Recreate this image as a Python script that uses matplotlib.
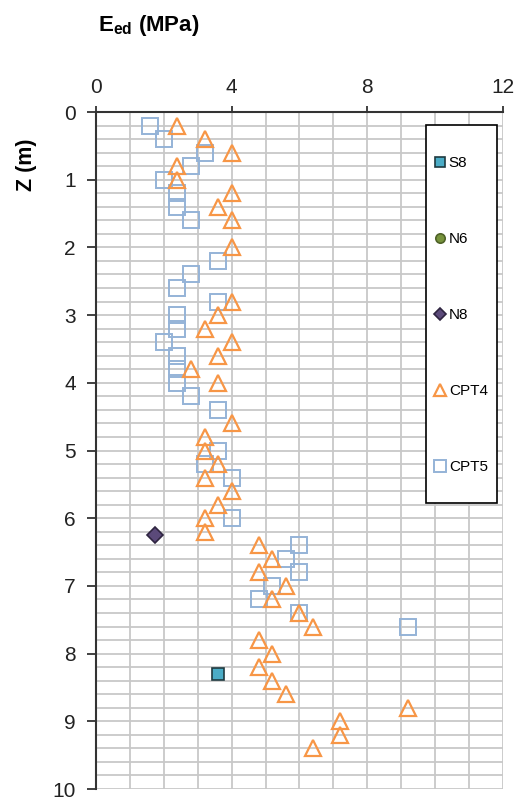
import numpy as np
import matplotlib
matplotlib.use('Agg')
import matplotlib.pyplot as plt
from matplotlib.ticker import MultipleLocator
from matplotlib.patches import Rectangle

plt.rcParams['font.family'] = ['Liberation Sans', 'DejaVu Sans']
plt.rcParams['mathtext.fontset'] = 'custom'
plt.rcParams['mathtext.rm'] = 'Liberation Sans'
plt.rcParams['mathtext.bf'] = 'Liberation Sans:bold'

# oedometer modulus vs depth
s8_E = [3.6]
s8_z = [8.3]
n6_E = []
n6_z = []
n8_E = [1.75]
n8_z = [6.25]

cpt4_z = [0.2, 0.4, 0.6, 0.8, 1.0, 1.2, 1.4, 1.6, 2.0, 2.8, 3.0, 3.2, 3.4, 3.6,
          3.8, 4.0, 4.6, 4.8, 5.0, 5.2, 5.4, 5.6, 5.8, 6.0, 6.2, 6.4, 6.6, 6.8,
          7.0, 7.2, 7.4, 7.6, 7.8, 8.0, 8.2, 8.4, 8.6, 8.8, 9.0, 9.2, 9.4]
cpt4_E = [2.4, 3.2, 4.0, 2.4, 2.4, 4.0, 3.6, 4.0, 4.0, 4.0, 3.6, 3.2, 4.0, 3.6,
          2.8, 3.6, 4.0, 3.2, 3.2, 3.6, 3.2, 4.0, 3.6, 3.2, 3.2, 4.8, 5.2, 4.8,
          5.6, 5.2, 6.0, 6.4, 4.8, 5.2, 4.8, 5.2, 5.6, 9.2, 7.2, 7.2, 6.4]

cpt5_z = [0.2, 0.4, 0.6, 0.8, 1.0, 1.2, 1.4, 1.6, 2.2, 2.4, 2.6, 2.8, 3.0, 3.2,
          3.4, 3.6, 3.8, 4.0, 4.2, 4.4, 5.0, 5.2, 5.4, 6.0, 6.4, 6.6, 6.8, 7.0,
          7.2, 7.4, 7.6]
cpt5_E = [1.6, 2.0, 3.2, 2.8, 2.0, 2.4, 2.4, 2.8, 3.6, 2.8, 2.4, 3.6, 2.4, 2.4,
          2.0, 2.4, 2.4, 2.4, 2.8, 3.6, 3.6, 3.2, 4.0, 4.0, 6.0, 5.6, 6.0, 5.2,
          4.8, 6.0, 9.2]

fig = plt.figure(figsize=(5.17, 7.99), dpi=100)
ax = fig.add_axes([0.1857, 0.0125, 0.7872, 0.8473])

ax.plot(s8_E, s8_z, 's', ms=9, mfc='#4BACC6', mec='#1F3A40', mew=1.2, label='S8', zorder=5)
ax.plot(n6_E, n6_z, 'o', ms=9, mfc='#77933C', mec='#4F6228', mew=1.2, label='N6', zorder=5)
ax.plot(n8_E, n8_z, 'D', ms=8, mfc='#5B4A7A', mec='#2E2440', mew=1.2, label='N8', zorder=5)
ax.plot(cpt4_E, cpt4_z, '^', ms=12, mfc='none', mec='#F79646', mew=1.6, label='CPT4', zorder=4)
ax.plot(cpt5_E, cpt5_z, 's', ms=11, mfc='none', mec='#95B3D7', mew=1.4, label='CPT5', zorder=3)

ax.set_xlim(0, 12)
ax.set_ylim(10, 0)
ax.xaxis.tick_top()
ax.xaxis.set_major_locator(MultipleLocator(4))
ax.xaxis.set_minor_locator(MultipleLocator(1))
ax.yaxis.set_major_locator(MultipleLocator(1))
ax.yaxis.set_minor_locator(MultipleLocator(0.2))
ax.grid(which='both', color='#C8C8C8', lw=1.3)
ax.set_axisbelow(True)
ax.tick_params(which='major', labelsize=15, width=1.3, color='#333333', labelcolor='#222222')
ax.tick_params(axis='x', which='major', length=4.5, pad=6)
ax.tick_params(axis='y', which='major', length=6.5, pad=8)
ax.tick_params(which='minor', length=0)

for s in ['bottom', 'right']:
    ax.spines[s].set_visible(False)
for s in ['top', 'left']:
    ax.spines[s].set_color('#333333')
    ax.spines[s].set_linewidth(1.5)

ax.set_ylabel('Z (m)', fontsize=15.5, fontweight='bold')
ax.yaxis.set_label_coords(-0.145, 0.922)

fig.text(98 / 517, 1 - 26 / 799, r'$\mathbf{E}_{\mathbf{ed}}$ (MPa)',
         fontsize=16, fontweight='bold', ha='left', va='center')

# legend box
box = Rectangle((0.811, 0.4224), 0.174, 0.5586, transform=ax.transAxes,
                facecolor='white', edgecolor='black', lw=1.2, zorder=6)
ax.add_patch(box)
leg = ax.legend(loc='center', bbox_to_anchor=(0.897, 0.70), frameon=False,
                fontsize=11, markerscale=0.75, handlelength=0.7, handletextpad=0.25,
                labelspacing=4.06, borderpad=0.2, numpoints=1)
leg.set_zorder(7)

fig.savefig('out.png', dpi=100)
